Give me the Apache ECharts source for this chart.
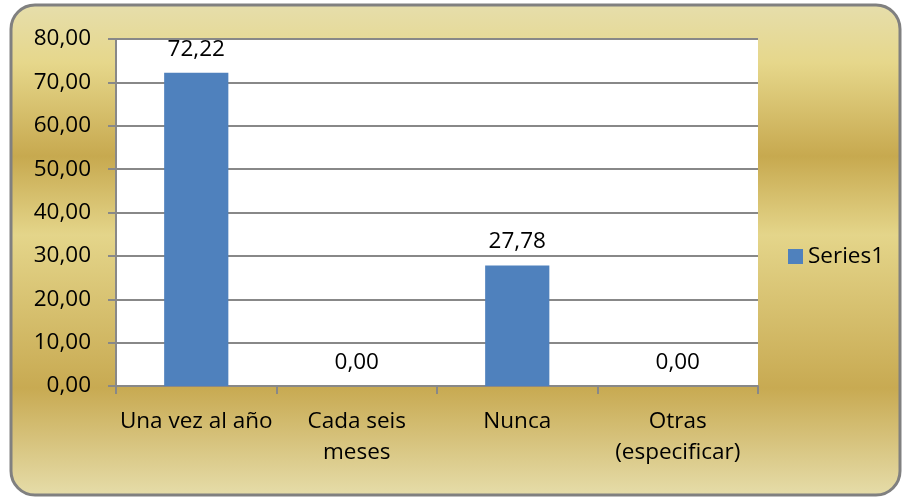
<!DOCTYPE html>
<html>
<head>
<meta charset="utf-8">
<script src="https://cdn.jsdelivr.net/npm/echarts@6/dist/echarts.min.js"></script>
<style>
html,body{margin:0;padding:0;background:#fff;}
#chart{width:903px;height:497px;}
</style>
</head>
<body>
<div id="chart"></div>
<script>
var categories = ["Una vez al año", "Cada seis\nmeses", "Nunca", "Otras\n(especificar)"];
var seriesName = "Series1";
var values = [72.22, 0.00, 27.78, 0.00];
var yMin = 0, yMax = 80, yInterval = 10;

function fmt(v){ return Number(v).toFixed(2).replace('.', ','); }

var FONT = '"Open Sans", Lato, sans-serif';
var FS = 22.5;
var chart = echarts.init(document.getElementById('chart'), null, {renderer:'canvas'});
chart.setOption({
  animation: false,
  backgroundColor: '#ffffff',
  textStyle: {fontFamily: FONT},
  graphic: [{
    type: 'rect',
    z: -10,
    silent: true,
    shape: {x: 11, y: 5, width: 889, height: 490, r: 24},
    style: {
      fill: {
        type: 'linear', x: 0, y: 0, x2: 0, y2: 1,
        colorStops: [
          {offset: 0.00, color: '#E6DEAC'},
          {offset: 0.12, color: '#E6D78B'},
          {offset: 0.31, color: '#C7A94F'},
          {offset: 0.47, color: '#E4D58A'},
          {offset: 0.78, color: '#C8AA52'},
          {offset: 1.00, color: '#E6DDAA'}
        ]
      },
      stroke: '#808080',
      lineWidth: 3
    }
  }],
  grid: {
    left: 116, right: 145, top: 39, bottom: 111,
    show: true, backgroundColor: '#ffffff', borderWidth: 0
  },
  legend: {
    data: [seriesName],
    left: 783, top: 240,
    icon: 'rect', itemWidth: 15, itemHeight: 15, itemGap: 6,
    textStyle: {fontSize: FS, color: '#000', fontFamily: FONT}
  },
  xAxis: {
    type: 'category',
    data: categories,
    axisLine: {show: true, lineStyle: {color: '#888', width: 2}},
    axisTick: {show: true, length: 8, alignWithLabel: false, lineStyle: {color: '#888', width: 2}},
    axisLabel: {color: '#000', fontSize: FS, lineHeight: 31, margin: 20, interval: 0, fontFamily: FONT},
    splitLine: {show: false}
  },
  yAxis: {
    type: 'value',
    min: yMin, max: yMax, interval: yInterval,
    axisLine: {show: true, lineStyle: {color: '#888', width: 2}},
    axisTick: {show: true, length: 8, lineStyle: {color: '#888', width: 2}},
    axisLabel: {color: '#000', fontSize: FS, margin: 25, formatter: fmt, fontFamily: FONT},
    splitLine: {show: true, lineStyle: {color: '#888', width: 2}}
  },
  series: [{
    name: seriesName,
    type: 'bar',
    data: values,
    barWidth: '40%',
    itemStyle: {color: '#4F81BD'},
    label: {
      show: true, position: 'top', distance: 12,
      color: '#000', fontSize: FS, fontFamily: FONT,
      formatter: function(p){ return fmt(p.value); }
    }
  }]
});
</script>
</body>
</html>
